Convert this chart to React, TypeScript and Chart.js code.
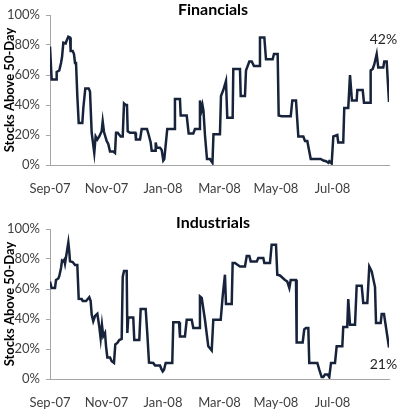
import React, { useEffect, useRef } from 'react';
import { Chart, registerables } from 'chart.js';
Chart.register(...registerables);

// x values: days since 1 Sep 2007
const tickDays = [0, 61, 122, 183, 244, 305];
const tickLabels = ['Sep-07', 'Nov-07', 'Jan-08', 'Mar-08', 'May-08', 'Jul-08'];

const finDays = [0, 1.8, 6.5, 7.2, 10.0, 11.9, 13.0, 14.4, 16.9, 18.0, 19.8, 21.6, 22.3, 24.5, 25.9, 27.0, 28.1, 29.5, 31.0, 34.9, 36.0, 36.7, 38.1, 41.8, 43.2, 45.0, 47.8, 49.3, 51.1, 53.2, 55.8, 56.9, 58.3, 61.2, 62.9, 64.8, 68.3, 70.2, 71.3, 73.1, 76.3, 78.5, 79.9, 81.7, 83.1, 83.9, 86.4, 92.1, 92.8, 97.2, 99.0, 104.7, 106.6, 108.7, 109.8, 113.4, 114.1, 115.2, 118.8, 120.6, 122.3, 123.4, 126.6, 133.9, 134.9, 140.3, 141.1, 147.6, 149.7, 154.7, 156.5, 160.9, 161.9, 163.6, 164.6, 165.7, 167.3, 169.5, 172.7, 175.4, 176.5, 183.5, 184.6, 187.1, 190.0, 191.4, 197.2, 197.9, 205.1, 205.9, 210.5, 211.6, 215.2, 217.8, 220.2, 226.0, 226.7, 231.4, 233.2, 240.4, 241.8, 245.8, 246.9, 250.1, 259.9, 261.6, 265.6, 268.1, 273.5, 275.3, 277.8, 281.5, 292.2, 295.1, 298.0, 300.5, 301.5, 304.1, 305.9, 310.2, 311.2, 316.6, 317.7, 322.0, 323.9, 326.0, 331.1, 331.8, 337.6, 339.0, 345.5, 346.2, 348.4, 350.1, 352.7, 354.4, 359.8, 360.9, 363.5, 366];
const finValues = [79, 57, 57, 62, 63, 68, 72, 81.5, 81, 83, 85.5, 85, 76, 76, 74, 68, 68, 46, 28, 28, 38, 38, 51, 51, 49, 21.5, 8, 19, 17, 19, 22.5, 29, 22, 16, 14, 9, 9, 8, 21.5, 21.5, 19, 19, 41, 40, 40, 22.5, 21.5, 21.5, 17, 17, 24, 24, 20, 15, 9.5, 9.5, 15, 11.5, 11.5, 10, 3, 4, 24, 24, 44, 44, 33, 33, 21, 21, 24, 24, 43, 37, 40, 36, 20, 4, 4, 1.5, 20.5, 20.5, 46, 50, 56, 31.5, 31.5, 64, 64, 46, 46, 63, 69, 69, 66, 66, 85, 85, 70.5, 70.5, 74, 74, 33, 32.5, 32.5, 43, 43, 19, 19, 16, 16, 4, 4, 3, 2.5, 1.5, 2.5, 1, 19, 20, 15, 15, 38, 38, 60, 43, 43, 50, 50, 41.5, 41.5, 63, 64, 67, 74, 65, 65, 69, 69, 42];

const indDays = [0, 1.8, 5.4, 6.5, 9.0, 10.0, 11.9, 13.0, 14.4, 15.4, 16.2, 18.0, 19.8, 20.8, 21.6, 24.5, 27.0, 29.5, 31.0, 34.2, 35.3, 38.9, 40.3, 42.4, 43.9, 45.0, 46.7, 48.6, 51.1, 53.2, 54.7, 56.1, 57.5, 59.4, 60.5, 61.9, 64.8, 66.6, 69.1, 70.5, 72.7, 74.8, 77.4, 78.5, 79.9, 82.8, 83.5, 84.5, 89.9, 91.0, 96.4, 97.9, 103.3, 105.0, 106.9, 111.5, 113.4, 118.8, 120.2, 121.7, 123.1, 124.9, 132.0, 133.1, 139.3, 140.3, 145.7, 147.6, 153.0, 154.7, 160.9, 161.9, 163.8, 167.3, 170.9, 174.6, 176.3, 184.3, 186.4, 188.9, 190.0, 196.2, 197.2, 199.7, 205.1, 210.5, 212.4, 215.2, 216.7, 223.2, 224.9, 230.3, 231.4, 237.5, 239.3, 244.0, 245.4, 248.3, 253.7, 256.2, 258.4, 259.9, 265.6, 266.3, 272.8, 274.5, 276.4, 278.9, 279.9, 288.6, 290.7, 293.3, 295.1, 296.9, 299.8, 301.5, 303.4, 307.7, 309.5, 315.6, 316.6, 320.9, 322.0, 323.9, 329.3, 331.1, 336.5, 338.2, 342.6, 344.7, 347.3, 350.9, 352.0, 357.0, 358.1, 360.6, 366];
const indValues = [65, 60.7, 60.7, 66, 67, 68.5, 74, 79, 78.5, 79.5, 77, 84, 91, 85, 78.5, 78, 76, 76, 53.5, 53.3, 52, 52, 53, 54.5, 52, 43, 38.5, 42, 43.5, 35, 27, 36, 28.5, 30.7, 21.8, 14.4, 14.4, 11.8, 10.7, 23, 24, 26, 26.7, 68, 72, 72, 30.7, 41, 41, 26, 26, 46.7, 46.7, 30.7, 11, 10.7, 9, 9, 6.7, 5, 6.2, 10.7, 10.7, 37.8, 37.8, 28.4, 28.4, 39.5, 39.5, 34, 34, 55, 54, 39.5, 21.8, 19, 39.5, 39.5, 55, 69.5, 50, 50, 77.3, 77.3, 75, 75, 82, 82, 78.4, 78.4, 80.7, 80.7, 77.3, 77.3, 89.5, 89.5, 69.5, 69, 66, 65, 60.7, 66, 66, 24.4, 24.4, 33, 34, 34, 10.7, 10.7, 6.2, 1.3, 1.3, 3, 3, 1.3, 10.7, 10.7, 21.8, 21.8, 34.7, 34.7, 53.3, 36.2, 36.2, 62.2, 62.2, 50.7, 50.7, 75, 71.8, 61.3, 37.3, 37.3, 43.3, 43.3, 21];

const FONT = 'Lato, "Noto Sans", sans-serif';
const LINE = '#16233b';
const AXIS = '#a6a6a6';
const TEXT = '#404040';

type PanelProps = {
  days: number[];
  values: number[];
  title: string;
  titleY: number;
  plotTop: number;
  height: number;
  note: string;
  noteDay: number;
  noteValue: number;
};

function Panel(p: PanelProps) {
  const ref = useRef<HTMLCanvasElement | null>(null);
  useEffect(() => {
    if (!ref.current) return;
    const textPlugin = {
      id: 'texts',
      afterDraw(chart: any) {
        const ctx = chart.ctx;
        ctx.save();
        ctx.fillStyle = '#000';
        ctx.font = `bold 16px ${FONT}`;
        ctx.textAlign = 'center';
        ctx.textBaseline = 'middle';
        ctx.fillText(p.title, 213, p.titleY);
        const xs = chart.scales.x;
        const ys = chart.scales.y;
        ctx.font = `14px ${FONT}`;
        ctx.fillStyle = '#262626';
        ctx.fillText(p.note, xs.getPixelForValue(p.noteDay), ys.getPixelForValue(p.noteValue));
        ctx.restore();
      },
    };
    const chart = new Chart(ref.current, {
      type: 'line',
      data: {
        datasets: [
          {
            data: p.days.map((d, i) => ({ x: d, y: p.values[i] })),
            borderColor: LINE,
            borderWidth: 2.5,
            pointRadius: 0,
            tension: 0,
            fill: false,
          },
        ],
      },
      options: {
        animation: false,
        responsive: false,
        maintainAspectRatio: false,
        layout: { padding: { top: p.plotTop, right: 11, left: 0, bottom: 0 } },
        plugins: { legend: { display: false }, tooltip: { enabled: false }, title: { display: false } },
        scales: {
          x: {
            type: 'linear',
            min: 0,
            max: 366,
            grid: { display: false },
            border: { color: AXIS, width: 1 },
            afterBuildTicks: (s: any) => {
              s.ticks = tickDays.map((v) => ({ value: v }));
            },
            ticks: {
              callback: (v: any) => {
                const i = tickDays.indexOf(Number(v));
                return i >= 0 ? tickLabels[i] : '';
              },
              maxRotation: 0,
              autoSkip: false,
              padding: 8,
              font: { family: FONT, size: 13 },
              color: TEXT,
            },
            afterFit: (s: any) => {
              s.height = p.height - p.plotTop - 150;
            },
          },
          y: {
            min: 0,
            max: 100,
            ticks: {
              stepSize: 20,
              callback: (v: any) => v + '%',
              padding: 6,
              font: { family: FONT, size: 13 },
              color: TEXT,
            },
            grid: { drawOnChartArea: false, tickLength: 4, color: AXIS },
            border: { color: AXIS, width: 1 },
            title: {
              display: true,
              text: 'Stocks Above 50-Day',
              font: { family: FONT, size: 13, weight: 'bold' },
              color: '#000',
              padding: { top: 2, bottom: 0 },
            },
            afterFit: (s: any) => {
              s.width = 50;
            },
          },
        },
      } as any,
      plugins: [textPlugin],
    });
    return () => chart.destroy();
  }, []);
  return <canvas ref={ref} width={400} height={p.height} style={{ display: 'block', width: 400, height: p.height }} />;
}

export default function App() {
  return (
    <div style={{ position: 'absolute', left: 0, top: 0, width: 400, height: 409, background: '#fff' }}>
      <Panel days={finDays} values={finValues} title="Financials" titleY={10} plotTop={15} height={204} note="42%" noteDay={360} noteValue={84} />
      <Panel days={indDays} values={indValues} title="Industrials" titleY={19} plotTop={25} height={205} note="21%" noteDay={360} noteValue={10} />
    </div>
  );
}
